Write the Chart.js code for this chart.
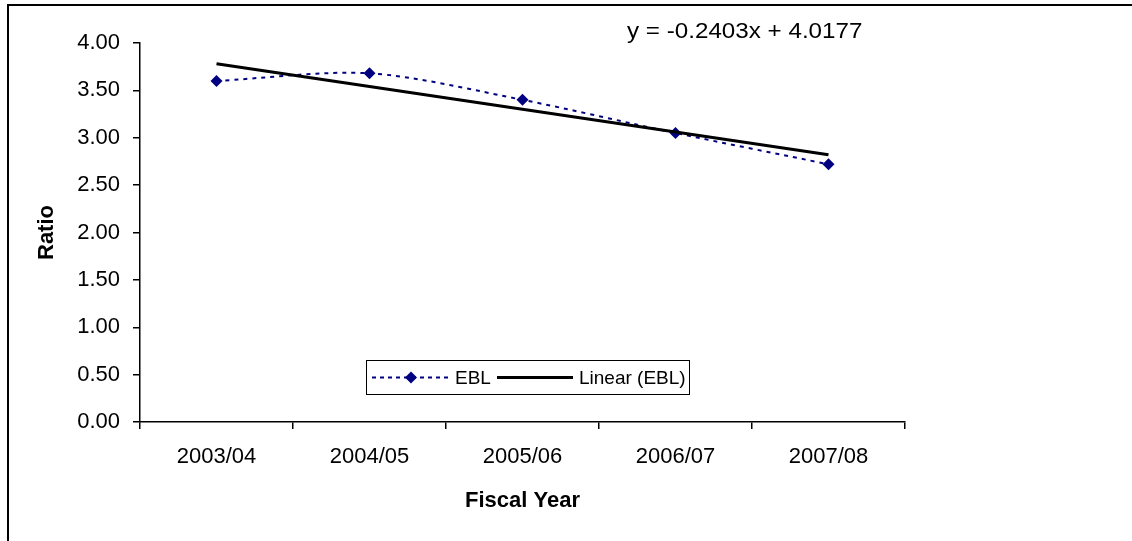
<!DOCTYPE html>
<html>
<head>
<meta charset="utf-8">
<script src="https://cdn.jsdelivr.net/npm/chart.js@4.4.1/dist/chart.umd.min.js"></script>
<style>
    body { margin: 0; background: #fff; }
    #wrap { position: relative; width: 1132px; height: 541px; overflow: hidden; font-family: "Liberation Sans", Arial, sans-serif; }
    #frame { position: absolute; left: 7px; top: 4px; width: 1200px; height: 600px; border-top: 2px solid #000; border-left: 2px solid #000; }
    #equation { position: absolute; left: 627px; top: 20px; font-size: 22px; line-height: 22px; color: #000; white-space: nowrap; transform: scaleX(1.1); transform-origin: left top; }
    #legend { position: absolute; left: 366px; top: 360px; width: 324px; height: 35px; box-sizing: border-box; border: 1px solid #000; background: #fff; }
    #legend svg { position: absolute; top: 0; }
    #legend span { position: absolute; top: 6px; font-size: 19px; line-height: 22px; white-space: nowrap; }
</style>
</head>
<body>
<div id="wrap">
    <canvas id="ratioChart" width="1132" height="541"></canvas>
    <div id="frame"></div>
    <div id="equation">y = -0.2403x + 4.0177</div>
    <div id="legend">
        <svg width="80" height="33" style="left:5px">
            <line x1="0" y1="16.5" x2="76" y2="16.5" stroke="#000080" stroke-width="2" stroke-dasharray="4,4"/>
            <polygon points="39,10.5 45,16.5 39,22.5 33,16.5" fill="#000080"/>
        </svg>
        <span style="left:88px">EBL</span>
        <svg width="80" height="33" style="left:130px">
            <line x1="0" y1="16.5" x2="76" y2="16.5" stroke="#000" stroke-width="3"/>
        </svg>
        <span style="left:212px">Linear (EBL)</span>
    </div>
</div>
<script>
const years = ['2003/04', '2004/05', '2005/06', '2006/07', '2007/08'];
const eblRatio = [3.60, 3.68, 3.40, 3.05, 2.72];
const eblTrend = [3.78, 3.54, 3.30, 3.06, 2.82];

const tickFont = { family: '"Liberation Sans", Arial, sans-serif', size: 22 };
const titleFont = { family: '"Liberation Sans", Arial, sans-serif', size: 22, weight: 'bold' };

new Chart(document.getElementById('ratioChart'), {
    type: 'line',
    data: {
        labels: years,
        datasets: [{
            label: 'Linear (EBL)',
            data: eblTrend,
            borderColor: '#000',
            borderWidth: 3,
            pointRadius: 0,
            tension: 0,
            order: 0
        }, {
            label: 'EBL',
            data: eblRatio,
            borderColor: '#000080',
            borderWidth: 2,
            borderDash: [4, 5],
            tension: 0.3,
            pointStyle: 'rectRot',
            pointRadius: 6,
            pointBackgroundColor: '#000080',
            pointBorderColor: '#000080',
            pointBorderWidth: 0,
            order: 1
        }]
    },
    options: {
        responsive: false,
        animation: false,
        layout: { padding: { left: 0, right: 227, top: 43, bottom: 0 } },
        plugins: {
            legend: { display: false },
            tooltip: { enabled: false }
        },
        scales: {
            x: {
                offset: true,
                grid: { offset: true, drawOnChartArea: false, drawTicks: true, tickLength: 7, color: '#000', lineWidth: 1.5 },
                border: { display: true, color: '#000', width: 1.5 },
                ticks: { color: '#000', font: tickFont, padding: 15, maxRotation: 0 },
                title: { display: true, text: 'Fiscal Year', color: '#000', font: titleFont, padding: { top: 0, bottom: 27 } },
                afterFit: scale => { scale.height = 119; }
            },
            y: {
                min: 0,
                max: 4,
                grid: { drawOnChartArea: false, drawTicks: true, tickLength: 7, color: '#000', lineWidth: 1.5 },
                border: { display: true, color: '#000', width: 1.5 },
                ticks: {
                    stepSize: 0.5,
                    color: '#000',
                    font: tickFont,
                    padding: 13,
                    callback: v => v.toFixed(2)
                },
                title: { display: true, text: 'Ratio', color: '#000', font: titleFont, padding: { top: 34, bottom: 0 } },
                afterFit: scale => { scale.width = 140; }
            }
        }
    }
});
</script>
</body>
</html>
